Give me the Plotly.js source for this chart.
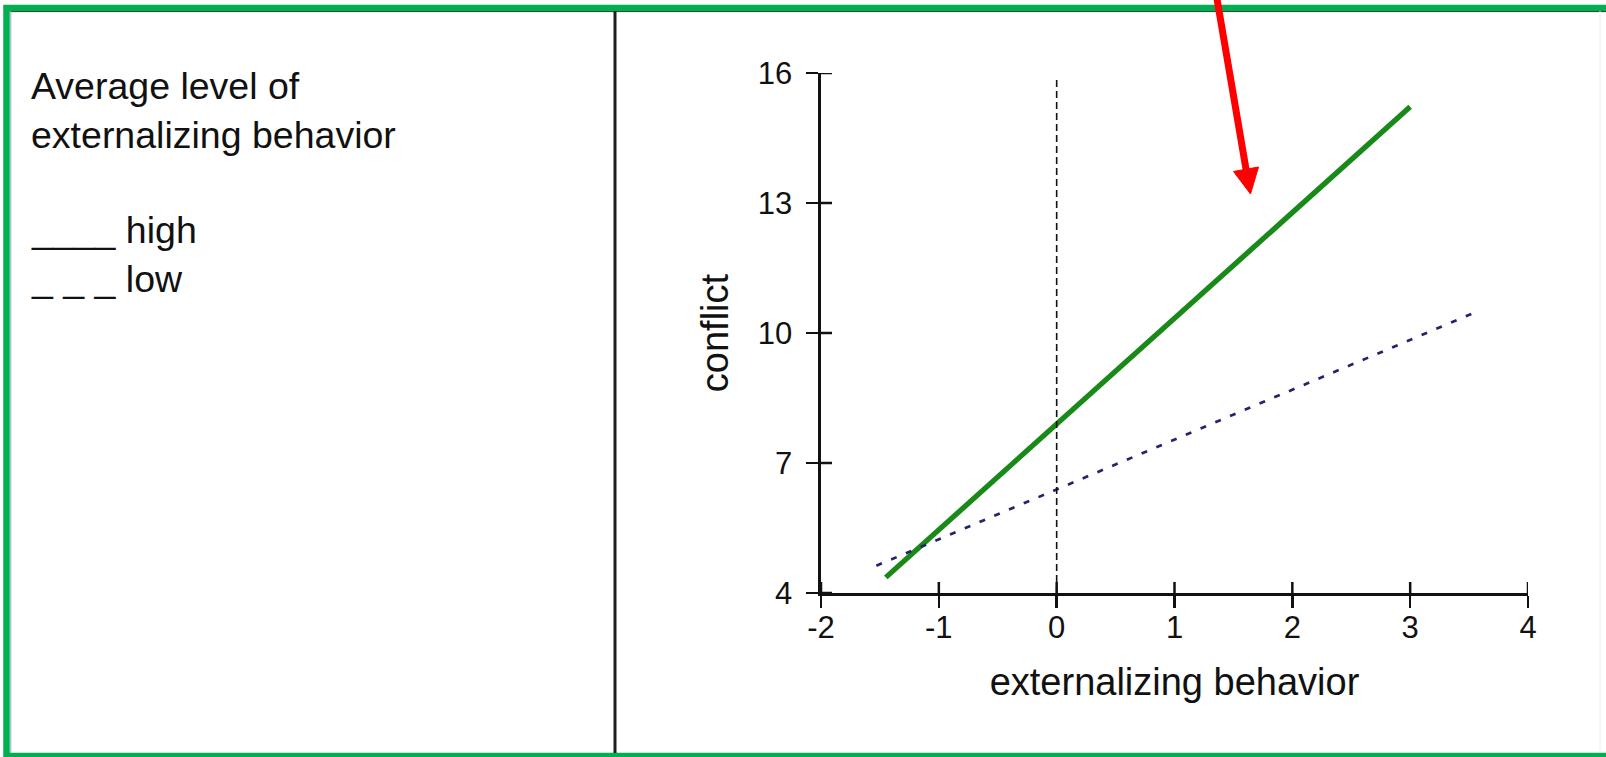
<!DOCTYPE html>
<html>
<head>
<meta charset="utf-8">
<script src="https://cdn.plot.ly/plotly-3.0.1.min.js"></script>
<style>
  html, body { margin: 0; padding: 0; background: #ffffff; }
  #chart { width: 1606px; height: 757px; }
</style>
</head>
<body>
<div id="chart"></div>
<script>
// ---- data ----
const highX = [-1.45, 3.0];
const highY = [4.36, 15.22];
const lowX = [-1.53, 3.52];
const lowY = [4.63, 10.44];
const xTicks = [-2, -1, 0, 1, 2, 3, 4];
const xTickText = ['-2', '-1', '0', '1', '2', '3', '4'];
const yTicks = [4, 7, 10, 13, 16];
const yTickText = ['4', '7', '10', '13', '16'];
const refLineX = 0;
const refLineYRange = [4, 15.92];
const xRange = [-2, 4];
const yRange = [4, 16];
const xTitle = 'externalizing behavior';
const yTitle = 'conflict';
const legendHeading = 'Average level of<br>externalizing behavior';
const legendLines = '____ high<br>_ _ _ low';

// ---- layout helpers (pixel -> paper) ----
const W = 1606, H = 757;
const L = 821, R = 1528, T = 73, B = 593;
const fx = p => (p - L) / (R - L);
const fy = p => (B - p) / (B - T);

const FONT = 'Liberation Sans, Arial, Helvetica, sans-serif';
const ink = '#111111';
const TICK_IN = 11;

const traces = [
  {
    x: highX, y: highY, mode: 'lines', name: 'high',
    line: { color: '#198a19', width: 5.3 }, hoverinfo: 'skip'
  },
  {
    x: lowX, y: lowY, mode: 'lines', name: 'low',
    line: { color: '#24246a', width: 2.7, dash: '6px,10px' }, hoverinfo: 'skip'
  },
  {
    x: [refLineX, refLineX], y: refLineYRange, mode: 'lines', name: 'ref',
    line: { color: '#111111', width: 1.6, dash: '7px,4px' }, hoverinfo: 'skip'
  }
];

const shapes = [
  // outer green frame
  { type: 'rect', xref: 'paper', yref: 'paper',
    x0: fx(6.5), x1: fx(1616), y0: fy(8), y1: fy(756),
    line: { color: '#00b050', width: 6.5 }, fillcolor: 'rgba(0,0,0,0)', layer: 'above' },
  // thin dark line under top border
  { type: 'line', xref: 'paper', yref: 'paper',
    x0: fx(10), x1: fx(1606), y0: fy(11.6), y1: fy(11.6),
    line: { color: '#333333', width: 1 } },
  // thin bluish line right of left border
  { type: 'line', xref: 'paper', yref: 'paper',
    x0: fx(10.8), x1: fx(10.8), y0: fy(11), y1: fy(753),
    line: { color: '#8fa8c8', width: 1 } },
  // faint line near right edge
  { type: 'line', xref: 'paper', yref: 'paper',
    x0: fx(1600), x1: fx(1600), y0: fy(11), y1: fy(753),
    line: { color: '#ececec', width: 1 } },
  // vertical divider
  { type: 'line', xref: 'paper', yref: 'paper',
    x0: fx(615), x1: fx(615), y0: fy(11), y1: fy(753),
    line: { color: '#1e1e1e', width: 3 } },
  // red arrow shaft
  { type: 'line', xref: 'paper', yref: 'paper',
    x0: fx(1216.5), y0: fy(-4), x1: fx(1246.5), y1: fy(172),
    line: { color: '#ff0000', width: 7 }, layer: 'above' },
  // red arrow head
  { type: 'path', xref: 'paper', yref: 'paper',
    path: 'M ' + fx(1233.5) + ' ' + fy(171.5) +
          ' L ' + fx(1258.5) + ' ' + fy(167.0) +
          ' L ' + fx(1250.5) + ' ' + fy(194.0) + ' Z',
    fillcolor: '#ff0000', line: { color: '#ff0000', width: 1 }, layer: 'above' }
];

// inner halves of the crossing tick marks, placed from the tick arrays
xTicks.forEach(v => shapes.push({
  type: 'line', xref: 'x', yref: 'paper', x0: v, x1: v,
  y0: 0, y1: TICK_IN / (B - T),
  line: { color: ink, width: 2.5 }
}));
yTicks.forEach(v => shapes.push({
  type: 'line', xref: 'paper', yref: 'y', y0: v, y1: v,
  x0: 0, x1: TICK_IN / (R - L),
  line: { color: ink, width: 2.5 }
}));

const annotations = [
  { xref: 'paper', yref: 'paper', x: fx(30), y: fy(64), xanchor: 'left', yanchor: 'top',
    text: legendHeading, showarrow: false, align: 'left', borderpad: 0,
    font: { family: FONT, size: 37.5, color: '#111111' } },
  { xref: 'paper', yref: 'paper', x: fx(30), y: fy(208), xanchor: 'left', yanchor: 'top',
    text: legendLines, showarrow: false, align: 'left', borderpad: 0,
    font: { family: FONT, size: 37.5, color: '#111111' } }
];

const axisCommon = {
  showgrid: false, zeroline: false, fixedrange: true,
  tickcolor: ink, tickwidth: 2.5
};

const layout = {
  width: W, height: H,
  margin: { l: L, r: W - R, t: T, b: H - B, pad: 0 },
  paper_bgcolor: '#ffffff', plot_bgcolor: '#ffffff',
  showlegend: false,
  font: { family: FONT, color: ink },
  xaxis: Object.assign({}, axisCommon, {
    range: xRange, tickmode: 'array', tickvals: xTicks, ticktext: xTickText,
    ticks: 'outside', ticklen: 12,
    showline: true, linecolor: ink, linewidth: 2.6,
    tickfont: { family: FONT, size: 31, color: ink },
    ticklabelstandoff: -7,
    title: { text: xTitle, font: { family: FONT, size: 38, color: '#111111' }, standoff: 25 }
  }),
  yaxis: Object.assign({}, axisCommon, {
    range: yRange, tickmode: 'array', tickvals: yTicks, ticktext: yTickText,
    ticks: 'outside', ticklen: 12,
    showline: true, linecolor: ink, linewidth: 2.6,
    tickfont: { family: FONT, size: 31, color: ink },
    ticklabelstandoff: 8,
    title: { text: yTitle, font: { family: FONT, size: 38, color: '#111111' }, standoff: 18 }
  }),
  shapes: shapes,
  annotations: annotations
};

Plotly.newPlot('chart', traces, layout, { staticPlot: true, displayModeBar: false });
</script>
</body>
</html>
